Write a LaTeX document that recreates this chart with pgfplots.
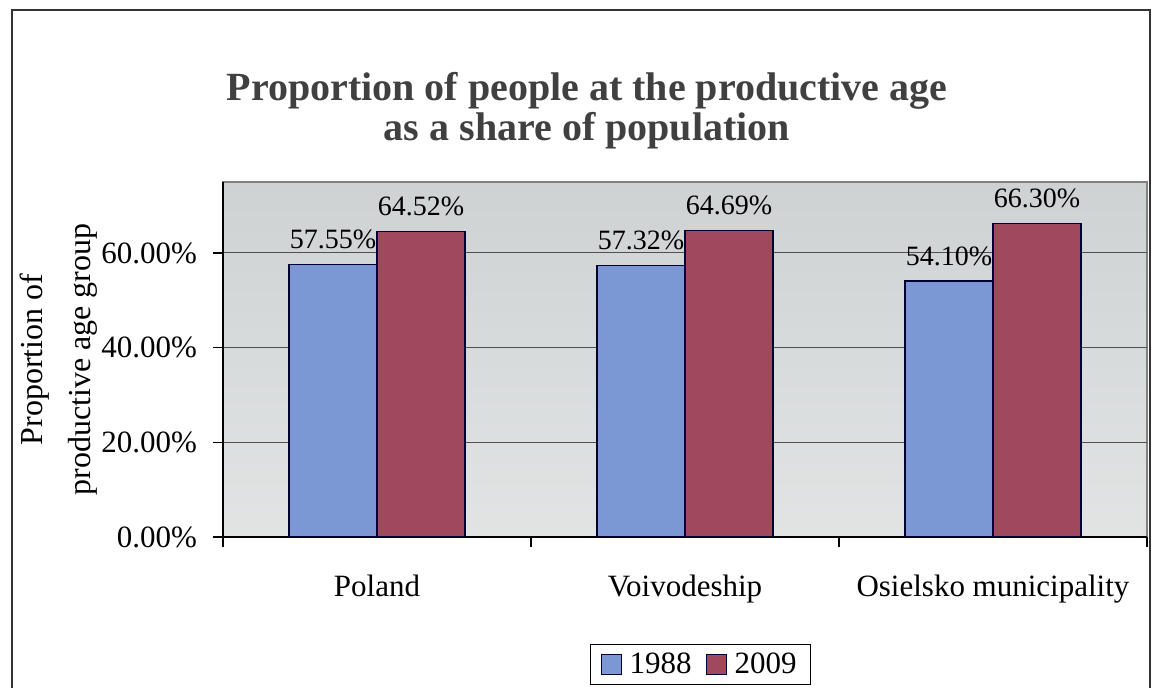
\documentclass[border=0pt]{standalone}
\usepackage{pgfplots}
\pgfplotsset{compat=1.18}
\usepackage{fontspec}
\setmainfont{Liberation Serif}
\definecolor{barblue}{RGB}{124,152,212}
\definecolor{barred}{RGB}{160,72,92}
\definecolor{bgtop}{RGB}{206,210,211}
\definecolor{bgbot}{RGB}{226,228,228}
\definecolor{gridc}{RGB}{80,80,80}
\begin{document}
\begin{tikzpicture}
\useasboundingbox (-111.5pt,-75.5pt) rectangle (465pt,268.5pt);
\begin{axis}[
  scale only axis,
  width=462pt, height=177.5pt,
  ybar=0pt, bar width=44pt,
  xmin=-0.5, xmax=2.5,
  ymin=0, ymax=75,
  axis x line*=bottom, axis y line*=left,
  axis line style={black, line width=0.6pt},
  axis background/.style={top color=bgtop, bottom color=bgbot, draw=gray, line width=0.6pt},
  xtick={-0.5,0.5,1.5,2.5}, xticklabels={},
  extra x ticks={0,1,2},
  extra x tick labels={Poland,Voivodeship,Osielsko municipality},
  extra x tick style={major tick length=0pt, grid=none},
  xticklabel style={font=\fontsize{15.5}{18}\selectfont, anchor=base, yshift=-30pt},
  ytick={0,20,40,60},
  tick align=outside, major tick length=5pt,
  tick style={black, line width=0.6pt},
  ymajorgrids, grid style={gridc, line width=0.5pt},
  /pgf/number format/assume math mode=true,
  yticklabel={\pgfmathprintnumber[fixed,fixed zerofill,precision=2]{\tick}\%},
  yticklabel style={font=\fontsize{15.5}{18}\selectfont, xshift=-4.5pt},
  ylabel={Proportion of\\productive age group},
  ylabel style={at={(axis description cs:-0.1775,0.5)}, anchor=center, align=center, font=\fontsize{16}{24}\selectfont},
  nodes near coords={\pgfmathprintnumber[fixed,fixed zerofill,precision=2]{\pgfplotspointmeta}\%},
  nodes near coords style={font=\fontsize{14}{16}\selectfont, anchor=center, yshift=12.5pt, black},
  legend style={at={(axis description cs:0.517,-0.36)}, anchor=center, legend columns=2,
    font=\fontsize{15.5}{18}\selectfont, draw=black, line width=0.5pt, inner xsep=5pt, inner ysep=2pt,
    /tikz/every odd column/.append style={column sep=2pt},
    /tikz/every even column/.append style={column sep=5pt}},
  legend image code/.code={\draw[#1, line width=0.5pt] (0pt,-5pt) rectangle (10pt,5pt);},
]
\addplot[fill=barblue, draw=black!80!blue, line width=0.6pt] coordinates {(0,57.55) (1,57.32) (2,54.10)};
\addplot[fill=barred, draw=black!80!blue, line width=0.6pt] coordinates {(0,64.52) (1,64.69) (2,66.30)};
\legend{1988,2009}
\end{axis}
\draw[black!80, line width=1pt] (-105.5pt,-80pt) -- (-105.5pt,263.5pt) -- (463.5pt,263.5pt) -- (463.5pt,-80pt);
\node[font=\bfseries\fontsize{20}{20}\selectfont, align=center, text=black!75] at (182pt,213pt) {Proportion of people at the productive age\\as a share of population};
\end{tikzpicture}
\end{document}
